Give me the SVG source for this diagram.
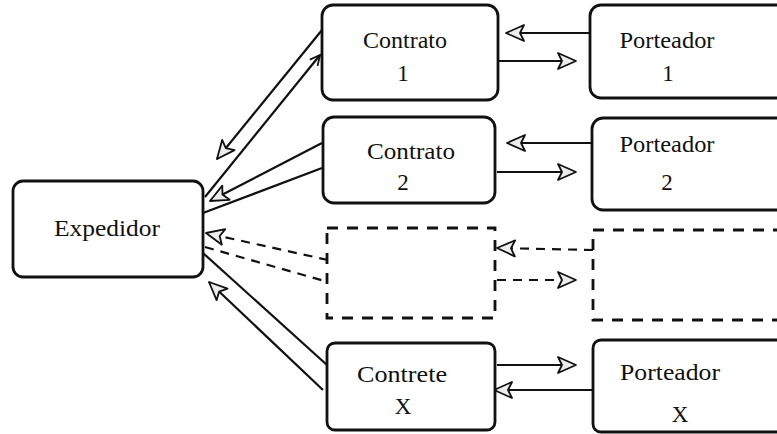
<svg xmlns="http://www.w3.org/2000/svg" width="777" height="434" viewBox="0 0 777 434">
  <style>
    .box { fill: #fff; stroke: #111; stroke-width: 2.8; }
    .dbox { fill: none; stroke: #111; stroke-width: 2.8; stroke-dasharray: 11 9; }
    .lbl { font-family: "Liberation Serif", "DejaVu Serif", serif; font-size: 23px; fill: #111; text-anchor: middle; }
    .ln { stroke: #111; stroke-width: 2.2; fill: none; }
    .dl { stroke: #111; stroke-width: 2.2; fill: none; stroke-dasharray: 9 7; }
    .hd { marker-end: url(#head); }
    .sm { marker-end: url(#small); }
  </style>
  <defs>
    <marker id="head" markerUnits="userSpaceOnUse" markerWidth="24" markerHeight="20" refX="20" refY="9" orient="auto" overflow="visible">
      <path d="M2,1 L20,9 L2,17 L6,9 Z" fill="#ececec" stroke="#111" stroke-width="1.8" stroke-linejoin="round"/>
    </marker>
    <marker id="small" markerUnits="userSpaceOnUse" markerWidth="14" markerHeight="12" refX="11" refY="5" orient="auto" overflow="visible">
      <path d="M1,0 L11,5 L1,10" fill="none" stroke="#111" stroke-width="1.8"/>
    </marker>
  </defs>

  <!-- connectors -->
  <g id="connectors">
    <!-- shipper and contracts -->
    <line class="ln sm" x1="205" y1="197" x2="320" y2="55"/>
    <line class="ln hd" x1="322" y1="30" x2="217" y2="159"/>
    <line class="ln hd" x1="322" y1="143" x2="210" y2="201"/>
    <line class="ln" x1="203" y1="213" x2="322" y2="168"/>
    <line class="dl hd" x1="328" y1="260" x2="206" y2="233"/>
    <line class="dl" x1="205" y1="247" x2="328" y2="282"/>
    <line class="ln" x1="203" y1="253" x2="327" y2="365" stroke-width="3"/>
    <line class="ln hd" x1="323" y1="390" x2="209" y2="282" stroke-width="3"/>
    <!-- contracts and carriers -->
    <line class="ln hd" x1="590" y1="33" x2="506" y2="33"/>
    <line class="ln hd" x1="498" y1="61" x2="576" y2="61"/>
    <line class="ln hd" x1="592" y1="143" x2="507" y2="143"/>
    <line class="ln hd" x1="497" y1="172" x2="576" y2="172"/>
    <line class="dl hd" x1="593" y1="250" x2="497" y2="248"/>
    <line class="dl hd" x1="497" y1="280" x2="576" y2="280"/>
    <line class="ln hd" x1="497" y1="365" x2="576" y2="365"/>
    <line class="ln hd" x1="593" y1="390" x2="494" y2="390"/>
  </g>

  <g id="expedidor">
    <rect class="box" x="13" y="181" width="190" height="96" rx="10"/>
    <text class="lbl" x="107" y="236" textLength="106" lengthAdjust="spacingAndGlyphs">Expedidor</text>
  </g>

  <g id="contrato-1">
    <rect class="box" x="322" y="5" width="176" height="95" rx="11"/>
    <text class="lbl" x="405" y="48" textLength="84" lengthAdjust="spacingAndGlyphs">Contrato</text>
    <text class="lbl" x="403" y="81">1</text>
  </g>

  <g id="contrato-2">
    <rect class="box" x="323" y="117" width="172" height="86" rx="11"/>
    <text class="lbl" x="411" y="159" textLength="88" lengthAdjust="spacingAndGlyphs">Contrato</text>
    <text class="lbl" x="403" y="190">2</text>
  </g>

  <g id="contrato-n">
    <rect class="dbox" x="327" y="228" width="168" height="90"/>
  </g>

  <g id="contrato-x">
    <rect class="box" x="327" y="343" width="168" height="87" rx="8"/>
    <text class="lbl" x="402" y="382" textLength="90" lengthAdjust="spacingAndGlyphs">Contrete</text>
    <text class="lbl" x="403" y="414">X</text>
  </g>

  <g id="porteador-1">
    <rect class="box" x="590" y="5" width="200" height="93" rx="11"/>
    <text class="lbl" x="667" y="48" textLength="95" lengthAdjust="spacingAndGlyphs">Porteador</text>
    <text class="lbl" x="668" y="81">1</text>
  </g>

  <g id="porteador-2">
    <rect class="box" x="592" y="118" width="200" height="92" rx="11"/>
    <text class="lbl" x="667" y="152" textLength="95" lengthAdjust="spacingAndGlyphs">Porteador</text>
    <text class="lbl" x="667" y="190">2</text>
  </g>

  <g id="porteador-n">
    <rect class="dbox" x="593" y="230" width="200" height="90"/>
  </g>

  <g id="porteador-x">
    <rect class="box" x="593" y="340" width="200" height="92" rx="8"/>
    <text class="lbl" x="670" y="380" textLength="100" lengthAdjust="spacingAndGlyphs">Porteador</text>
    <text class="lbl" x="680" y="422">X</text>
  </g>
</svg>
